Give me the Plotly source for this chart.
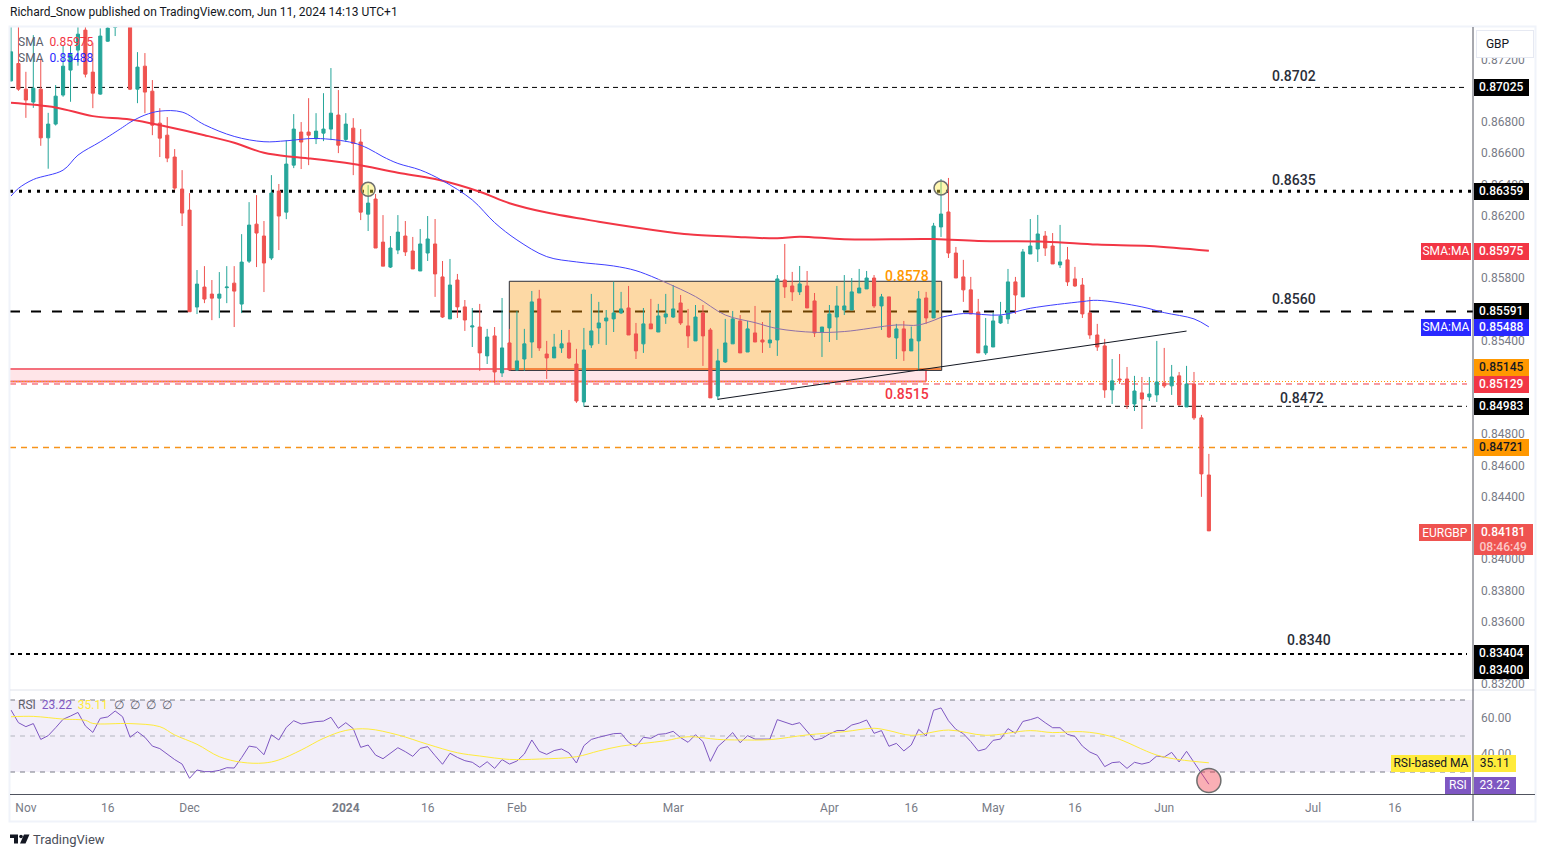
import plotly.graph_objects as go


opens = [0.87064, 0.87175, 0.87011, 0.86928, 0.87011, 0.86699, 0.86787, 0.86973, 0.87133, 0.87261,
         0.87389, 0.87120, 0.86979, 0.87318, 0.87406, 0.87470, 0.87500, 0.87011, 0.87158, 0.86998,
         0.86793, 0.86716, 0.86576, 0.86371, 0.86236, 0.85615, 0.85743, 0.85698, 0.85672, 0.85739,
         0.85768, 0.85634, 0.85909, 0.86146, 0.86070, 0.85929, 0.86358, 0.86223, 0.86524, 0.86736,
         0.86736, 0.86693, 0.86729, 0.86755, 0.86845, 0.86689, 0.86761, 0.86672, 0.86210, 0.86307,
         0.86031, 0.85871, 0.85980, 0.86070, 0.85974, 0.85846, 0.85961, 0.86019, 0.85808, 0.85539,
         0.85788, 0.85616, 0.85487, 0.85487, 0.85302, 0.85430, 0.85193, 0.85385, 0.85212, 0.85282,
         0.85391, 0.85667, 0.85314, 0.85289, 0.85353, 0.85385, 0.85250, 0.85007, 0.85372, 0.85481,
         0.85526, 0.85539, 0.85577, 0.85609, 0.85443, 0.85379, 0.85507, 0.85455, 0.85551, 0.85551,
         0.85641, 0.85494, 0.85398, 0.85577, 0.85468, 0.85045, 0.85263, 0.85379, 0.85526, 0.85327,
         0.85449, 0.85404, 0.85385, 0.85404, 0.85788, 0.85750, 0.85712, 0.85750, 0.85654, 0.85453,
         0.85481, 0.85551, 0.85596, 0.85596, 0.85705, 0.85731, 0.85801, 0.85622, 0.85680, 0.85417,
         0.85475, 0.85334, 0.85398, 0.85673, 0.85545, 0.86128, 0.86224, 0.85961, 0.85808, 0.85725,
         0.85583, 0.85321, 0.85359, 0.85513, 0.85539, 0.85776, 0.85680, 0.85955, 0.85987, 0.86070,
         0.86006, 0.85885, 0.85917, 0.85795, 0.85756, 0.85577, 0.85436, 0.85366, 0.85084, 0.85154,
         0.85154, 0.84994, 0.85065, 0.85039, 0.85052, 0.85129, 0.85110, 0.85174, 0.84975, 0.85122,
         0.84905, 0.84539]
highs = [0.87500, 0.87450, 0.87122, 0.87357, 0.87207, 0.86859, 0.87037, 0.87293, 0.87293, 0.87480,
         0.87500, 0.87308, 0.87400, 0.87520, 0.87560, 0.87600, 0.87560, 0.87248, 0.87242, 0.87069,
         0.86889, 0.86832, 0.86627, 0.86492, 0.86345, 0.85852, 0.85877, 0.85788, 0.85839, 0.85877,
         0.85877, 0.86082, 0.86287, 0.86332, 0.86166, 0.86460, 0.86403, 0.86684, 0.86851, 0.86800,
         0.86953, 0.86857, 0.86985, 0.87146, 0.87005, 0.86857, 0.86825, 0.86755, 0.86396, 0.86339,
         0.86204, 0.86070, 0.86204, 0.86166, 0.86064, 0.86115, 0.86198, 0.86179, 0.85910, 0.85923,
         0.85827, 0.85660, 0.85609, 0.85635, 0.85475, 0.85487, 0.85673, 0.85475, 0.85590, 0.85475,
         0.85718, 0.85725, 0.85398, 0.85443, 0.85468, 0.85468, 0.85347, 0.85481, 0.85699, 0.85648,
         0.85596, 0.85778, 0.85712, 0.85750, 0.85513, 0.85609, 0.85667, 0.85635, 0.85699, 0.85756,
         0.85692, 0.85603, 0.85628, 0.85628, 0.85481, 0.85347, 0.85539, 0.85590, 0.85564, 0.85526,
         0.85622, 0.85519, 0.85577, 0.85820, 0.86019, 0.85840, 0.85878, 0.85846, 0.85705, 0.85487,
         0.85628, 0.85750, 0.85820, 0.85801, 0.85859, 0.85846, 0.85820, 0.85699, 0.85680, 0.85507,
         0.85526, 0.85490, 0.85718, 0.85712, 0.86154, 0.86435, 0.86442, 0.86000, 0.85917, 0.85808,
         0.85667, 0.85545, 0.85577, 0.85648, 0.85859, 0.85808, 0.85987, 0.86179, 0.86205, 0.86102,
         0.86089, 0.86141, 0.86000, 0.85872, 0.85801, 0.85680, 0.85507, 0.85411, 0.85282, 0.85314,
         0.85231, 0.85174, 0.85167, 0.85167, 0.85398, 0.85353, 0.85244, 0.85199, 0.85238, 0.85199,
         0.84924, 0.84674]
lows = [0.87060, 0.87000, 0.86827, 0.86891, 0.86648, 0.86501, 0.86778, 0.86962, 0.86930, 0.87161,
        0.87086, 0.86889, 0.86975, 0.87314, 0.87351, 0.87430, 0.87005, 0.86921, 0.86857, 0.86716,
        0.86576, 0.86543, 0.86364, 0.86134, 0.85585, 0.85570, 0.85640, 0.85531, 0.85544, 0.85640,
        0.85487, 0.85576, 0.85897, 0.85871, 0.85711, 0.85916, 0.85980, 0.86178, 0.86505, 0.86499,
        0.86524, 0.86659, 0.86678, 0.86684, 0.86601, 0.86672, 0.86460, 0.86172, 0.86102, 0.85993,
        0.85877, 0.85865, 0.85954, 0.85942, 0.85859, 0.85846, 0.85910, 0.85680, 0.85545, 0.85539,
        0.85545, 0.85462, 0.85359, 0.85206, 0.85250, 0.85129, 0.85167, 0.85212, 0.85206, 0.85206,
        0.85289, 0.85334, 0.85154, 0.85289, 0.85321, 0.85282, 0.85001, 0.84977, 0.85353, 0.85379,
        0.85372, 0.85455, 0.85571, 0.85436, 0.85282, 0.85321, 0.85475, 0.85455, 0.85507, 0.85545,
        0.85500, 0.85353, 0.85398, 0.85238, 0.85033, 0.85020, 0.85257, 0.85379, 0.85321, 0.85327,
        0.85391, 0.85321, 0.85353, 0.85302, 0.85673, 0.85654, 0.85692, 0.85609, 0.85423, 0.85295,
        0.85391, 0.85404, 0.85564, 0.85596, 0.85705, 0.85731, 0.85609, 0.85468, 0.85417, 0.85282,
        0.85270, 0.85334, 0.85206, 0.85507, 0.85545, 0.86064, 0.85929, 0.85801, 0.85648, 0.85571,
        0.85321, 0.85308, 0.85359, 0.85507, 0.85507, 0.85571, 0.85680, 0.85955, 0.85904, 0.85942,
        0.85891, 0.85865, 0.85750, 0.85744, 0.85545, 0.85411, 0.85334, 0.85033, 0.84994, 0.85122,
        0.84962, 0.84949, 0.84834, 0.85013, 0.85007, 0.85097, 0.85052, 0.84981, 0.84975, 0.84892,
        0.84399, 0.84181]
closes = [0.87250, 0.87011, 0.86941, 0.87017, 0.86699, 0.86787, 0.86966, 0.87158, 0.87233, 0.87363,
          0.87107, 0.86985, 0.87351, 0.87402, 0.87442, 0.87550, 0.87011, 0.87152, 0.86992, 0.86780,
          0.86697, 0.86569, 0.86377, 0.86217, 0.85585, 0.85762, 0.85666, 0.85672, 0.85698, 0.85743,
          0.85717, 0.85903, 0.86140, 0.86089, 0.85897, 0.86345, 0.86198, 0.86531, 0.86755, 0.86672,
          0.86716, 0.86742, 0.86755, 0.86857, 0.86652, 0.86787, 0.86663, 0.86223, 0.86281, 0.85993,
          0.85877, 0.85993, 0.86095, 0.85968, 0.85859, 0.86019, 0.86051, 0.85827, 0.85551, 0.85756,
          0.85616, 0.85532, 0.85494, 0.85321, 0.85423, 0.85199, 0.85353, 0.85212, 0.85270, 0.85379,
          0.85648, 0.85353, 0.85289, 0.85359, 0.85379, 0.85289, 0.85013, 0.85340, 0.85462, 0.85513,
          0.85545, 0.85577, 0.85603, 0.85436, 0.85334, 0.85507, 0.85475, 0.85558, 0.85571, 0.85603,
          0.85513, 0.85430, 0.85551, 0.85430, 0.85033, 0.85270, 0.85385, 0.85539, 0.85321, 0.85475,
          0.85391, 0.85391, 0.85404, 0.85795, 0.85744, 0.85712, 0.85763, 0.85609, 0.85449, 0.85487,
          0.85571, 0.85622, 0.85622, 0.85712, 0.85737, 0.85801, 0.85622, 0.85680, 0.85423, 0.85475,
          0.85334, 0.85410, 0.85667, 0.85545, 0.86134, 0.86211, 0.85961, 0.85801, 0.85725, 0.85571,
          0.85321, 0.85366, 0.85526, 0.85558, 0.85776, 0.85692, 0.85968, 0.86006, 0.86083, 0.85993,
          0.85891, 0.85904, 0.85776, 0.85750, 0.85571, 0.85436, 0.85359, 0.85084, 0.85142, 0.85148,
          0.84988, 0.85077, 0.85026, 0.85058, 0.85135, 0.85110, 0.85167, 0.84988, 0.85122, 0.84905,
          0.84546, 0.84181]

sma200_bars = [0, 6, 11, 16, 21, 26, 30, 34, 38, 40, 46, 52, 57, 63, 67, 72, 79, 88, 91, 97,
               103, 106, 112, 124, 130, 139, 146, 153, 161]
sma200 = [0.86924, 0.86894, 0.86838, 0.86817, 0.86770, 0.86716, 0.86667, 0.86603, 0.86576, 0.86567,
          0.86531, 0.86475, 0.86435, 0.86354, 0.86280, 0.86220, 0.86162, 0.86098, 0.86081, 0.86066,
          0.86055, 0.86066, 0.86049, 0.86051, 0.86038, 0.86034, 0.86015, 0.86006, 0.85975]
sma50_bars = [0, 1, 3, 7, 9, 12, 15, 16, 18, 20, 23, 26, 30, 34, 37, 41, 46, 48, 50, 52,
              55, 58, 62, 65, 68, 72, 76, 81, 84, 87, 92, 96, 100, 103, 108, 112, 119, 122, 125,
              128, 133, 137, 144, 146, 152, 155, 159, 161]
sma50 = [0.86326, 0.86375, 0.86432, 0.86492, 0.86588, 0.86674, 0.86766, 0.86798, 0.86845, 0.86870,
         0.86864, 0.86783, 0.86708, 0.86674, 0.86680, 0.86695, 0.86667, 0.86631, 0.86578, 0.86535,
         0.86493, 0.86425, 0.86301, 0.86156, 0.86045, 0.85938, 0.85904, 0.85878, 0.85848, 0.85793,
         0.85682, 0.85564, 0.85515, 0.85477, 0.85453, 0.85458, 0.85500, 0.85500, 0.85549,
         0.85573, 0.85564, 0.85607, 0.85650, 0.85658, 0.85616, 0.85579, 0.85539, 0.85488]

rsi = [64.4, 57.4, 55.2, 56.9, 48.1, 50.2, 54.6, 59.3, 61.1, 63.1, 55.6, 52.0, 59.8, 60.6, 63.9, 60.7,
       49.3, 52.4, 49.3, 44.4, 43.0, 39.8, 36.9, 34.4, 26.5, 31.1, 30.2, 30.2, 30.9, 32.4, 32.2, 38.0,
       44.4, 43.7, 39.6, 50.7, 47.8, 54.8, 58.5, 56.7, 57.4, 58.0, 58.3, 60.4, 54.3, 57.4, 54.1, 43.7,
       45.0, 39.4, 37.4, 40.4, 43.5, 41.3, 38.7, 43.1, 44.1, 39.1, 34.3, 40.4, 38.1, 36.3, 35.4, 32.6,
       35.7, 32.0, 36.9, 34.4, 36.1, 40.0, 47.8, 41.5, 39.8, 41.9, 42.8, 40.6, 35.0, 44.6, 48.1, 49.3,
       50.2, 51.3, 51.5, 46.5, 44.1, 49.3, 48.7, 50.9, 51.3, 52.6, 49.1, 46.5, 50.7, 46.9, 35.9, 44.1,
       47.8, 51.9, 46.3, 50.2, 48.3, 48.3, 48.3, 59.1, 57.6, 56.3, 57.4, 52.4, 47.8, 48.7, 51.1, 53.0,
       53.1, 56.1, 57.2, 58.9, 51.5, 53.0, 44.3, 45.9, 41.7, 45.0, 53.7, 50.0, 64.3, 65.6, 58.5, 53.7,
       51.3, 46.9, 41.7, 42.8, 47.6, 48.3, 54.1, 51.5, 58.1, 59.1, 60.4, 57.4, 54.6, 54.6, 50.9, 49.8,
       44.4, 41.1, 39.3, 33.0, 35.2, 35.6, 32.0, 35.4, 34.4, 35.4, 38.9, 38.3, 40.9, 35.6, 41.5, 35.4,
       29.3, 23.22]
rsi_ma_bars = [0, 3, 7, 10, 11, 16, 20, 22, 25, 28, 31, 34, 36, 39, 42, 45, 48, 52, 56, 60, 63, 67, 71,
               76, 79, 82, 85, 88, 91, 95, 98, 102, 107, 112, 116, 118, 121, 126, 131, 137, 140, 144,
               148, 154, 157, 161]
rsi_ma = [60.7, 60.9, 59.4, 58.7, 57.0, 56.9, 55.2, 50.6, 45.4, 38.5, 35.4, 35.0, 36.7, 42.2, 48.7, 53.1,
          53.9, 50.6, 45.4, 40.7, 38.9, 37.0, 37.2, 38.5, 41.7, 44.4, 45.9, 47.4, 49.6, 48.1, 47.8, 48.0,
          50.6, 52.4, 54.3, 53.0, 50.4, 53.3, 50.4, 53.0, 51.9, 52.4, 49.6, 39.4, 36.9, 35.11]

tick_bars = [2, 13, 24, 45, 56, 68, 89, 110, 121, 132, 143, 155, 175, 186]
tick_labels = ['Nov', '16', 'Dec', '<b>2024</b>', '16', 'Feb', 'Mar', 'Apr', '16', 'May', '16', 'Jun', 'Jul', '16']
price_ticks = [0.872, 0.868, 0.866, 0.864, 0.862, 0.858, 0.854, 0.848, 0.846, 0.844, 0.840, 0.838, 0.836, 0.832]

W = 1546
H = 857
TEXT = '#131722'
GREY = '#787b86'
bars = list(range(len(opens)))

fig = go.Figure()

fig.add_trace(go.Candlestick(
    x=bars, open=opens, high=highs, low=lows, close=closes,
    increasing=dict(line=dict(color='#26a69a', width=1), fillcolor='#26a69a'),
    decreasing=dict(line=dict(color='#ef5350', width=1), fillcolor='#ef5350'),
    showlegend=False
))
fig.add_trace(go.Scatter(x=sma200_bars, y=sma200, mode='lines', showlegend=False,
                         line=dict(color='#f23645', width=2, shape='spline')))
# the orange box sits over the blue line, so that part is tinted
fig.add_trace(go.Scatter(x=sma50_bars[:30], y=sma50[:30], mode='lines', showlegend=False,
                         line=dict(color='#3f3fff', width=1, shape='spline')))
fig.add_trace(go.Scatter(x=sma50_bars[29:39], y=sma50[29:39], mode='lines', showlegend=False,
                         line=dict(color='#8f70a8', width=1, shape='spline')))
fig.add_trace(go.Scatter(x=sma50_bars[38:], y=sma50[38:], mode='lines', showlegend=False,
                         line=dict(color='#3f3fff', width=1, shape='spline')))
fig.add_trace(go.Scatter(x=bars, y=rsi, mode='lines', xaxis='x2', yaxis='y2', showlegend=False,
                         line=dict(color='#7e57c2', width=1)))
fig.add_trace(go.Scatter(x=rsi_ma_bars, y=rsi_ma, mode='lines', xaxis='x2', yaxis='y2', showlegend=False,
                         line=dict(color='#ffeb3b', width=1, shape='spline')))

fig.update_layout(
    width=W, height=H,
    margin=dict(l=0, r=0, t=0, b=0),
    paper_bgcolor='white', plot_bgcolor='white',
    boxgap=0.4,
    font=dict(family='Roboto', size=12, color=GREY),
    xaxis=dict(domain=[10 / W, 1473 / W], range=[-0.134, 196.5], rangeslider_visible=False, automargin=False,
               showgrid=False, zeroline=False, showticklabels=False, ticks=''),
    yaxis=dict(domain=[1 - 689 / H, 1 - 27 / H], range=[0.83168, 0.87409], side='right', anchor='x', automargin=False,
               showgrid=False, zeroline=False, tickvals=price_ticks, tickformat='.5f',
               ticks='', ticklabelstandoff=7),
    xaxis2=dict(domain=[10 / W, 1473 / W], range=[-0.134, 196.5], anchor='y2', automargin=False,
                showgrid=False, zeroline=False, tickvals=tick_bars, ticktext=tick_labels, ticks='',
                ticklabelstandoff=5),
    yaxis2=dict(domain=[1 - 794 / H, 1 - 690 / H], range=[17.78, 75.56], side='right', anchor='x2', automargin=False,
                showgrid=False, zeroline=False, tickvals=[60, 40], tickformat='.2f',
                ticks='', ticklabelstandoff=7),
)

# level lines
fig.add_shape(type='line', xref='paper', yref='y', x0=10 / W, x1=1467 / W, y0=0.87022, y1=0.87022, layer='below',
              line=dict(color='#000000', width=1, dash='5px,4px'))
fig.add_shape(type='line', xref='paper', yref='y', x0=10 / W, x1=1473 / W, y0=0.86356, y1=0.86356, layer='below',
              line=dict(color='#000000', width=3, dash='3px,6px'))
fig.add_shape(type='line', xref='paper', yref='y', x0=10 / W, x1=509 / W, y0=0.85586, y1=0.85586, layer='below',
              line=dict(color='#000000', width=2, dash='10px,11px'))
fig.add_shape(type='line', xref='paper', yref='y', x0=942 / W, x1=1473 / W, y0=0.85586, y1=0.85586, layer='below',
              line=dict(color='#000000', width=2, dash='10px,11px'))
fig.add_shape(type='line', xref='paper', yref='y', x0=10 / W, x1=1467 / W, y0=0.85122, y1=0.85122, layer='below',
              line=dict(color='#f23645', width=1, dash='6px,5px'))
fig.add_shape(type='line', xref='paper', yref='y', x0=584 / W, x1=1467 / W, y0=0.84979, y1=0.84979, layer='below',
              line=dict(color='#000000', width=1, dash='5px,4px'))
fig.add_shape(type='line', xref='paper', yref='y', x0=10 / W, x1=1467 / W, y0=0.84715, y1=0.84715, layer='below',
              line=dict(color='#f7931a', width=1.3, dash='6px,5px'))
fig.add_shape(type='line', xref='paper', yref='y', x0=10 / W, x1=1467 / W, y0=0.83392, y1=0.83392, layer='below',
              line=dict(color='#000000', width=2, dash='4px,4px'))

# pink zone
fig.add_shape(type='rect', xref='paper', yref='y', x0=10 / W, x1=926 / W, y0=0.85138, y1=0.85218, layer='below',
              fillcolor='#ffe5e8', line=dict(width=0))
fig.add_shape(type='line', xref='paper', yref='y', x0=10 / W, x1=509 / W, y0=0.85218, y1=0.85218, layer='below',
              line=dict(color='#f4707c', width=2))
fig.add_shape(type='line', xref='paper', yref='y', x0=10 / W, x1=926 / W, y0=0.85138, y1=0.85138, layer='below',
              line=dict(color='#f4707c', width=2))
fig.add_shape(type='line', xref='paper', yref='y', x0=926 / W, x1=926 / W, y0=0.85138, y1=0.85218, layer='below',
              line=dict(color='#f4707c', width=2))
fig.add_shape(type='line', xref='paper', yref='y', x0=10 / W, x1=1467 / W, y0=0.85138, y1=0.85138, layer='below',
              line=dict(color='#ff9800', width=1, dash='1px,2px'))

# orange box
fig.add_shape(type='rect', xref='paper', yref='y', x0=509.3 / W, x1=941.7 / W, y0=0.85209, y1=0.85780, layer='below',
              fillcolor='#fdd9a5', line=dict(color='#2a2e39', width=1))
fig.add_shape(type='line', xref='paper', yref='y', x0=509 / W, x1=942 / W, y0=0.85586, y1=0.85586, layer='below',
              line=dict(color='#6b4000', width=2, dash='10px,11px'))
fig.add_shape(type='line', xref='paper', yref='y', x0=510 / W, x1=941 / W, y0=0.85218, y1=0.85218, layer='below',
              line=dict(color='#f5853f', width=2))

# trend line and circles
fig.add_shape(type='line', x0=95, x1=158, y0=0.85024, y1=0.85461, line=dict(color='#131722', width=1))
fig.add_shape(type='circle', xsizemode='pixel', ysizemode='pixel', xanchor=48, yanchor=0.86369,
              x0=-7, x1=7, y0=-7, y1=7, fillcolor='rgba(255,235,59,0.4)', line=dict(color='#6f6f6f', width=1.5))
fig.add_shape(type='circle', xsizemode='pixel', ysizemode='pixel', xanchor=125, yanchor=0.86377,
              x0=-7, x1=7, y0=-7, y1=7, fillcolor='rgba(255,235,59,0.4)', line=dict(color='#6f6f6f', width=1.5))

# RSI pane
fig.add_shape(type='rect', xref='paper', yref='y2', x0=10 / W, x1=1473 / W, y0=30, y1=70, layer='below',
              fillcolor='rgba(126,87,194,0.1)', line=dict(width=0))
fig.add_shape(type='line', xref='paper', yref='y2', x0=10 / W, x1=1467 / W, y0=70, y1=70, layer='below',
              line=dict(color=GREY, width=1, dash='5px,5px'))
fig.add_shape(type='line', xref='paper', yref='y2', x0=10 / W, x1=1467 / W, y0=50, y1=50, layer='below',
              line=dict(color='#b2b5be', width=1, dash='5px,5px'))
fig.add_shape(type='line', xref='paper', yref='y2', x0=10 / W, x1=1467 / W, y0=30, y1=30, layer='below',
              line=dict(color=GREY, width=1, dash='5px,5px'))
fig.add_shape(type='circle', xref='x2', yref='y2', xsizemode='pixel', ysizemode='pixel', xanchor=161, yanchor=25.3,
              x0=-12, x1=12, y0=-12, y1=12, fillcolor='rgba(242,54,69,0.4)', line=dict(color='#6f6f6f', width=1.5))

# frame
fig.add_shape(type='rect', xref='paper', yref='paper', x0=9.5 / W, x1=1535.5 / W, y0=1 - 821.5 / H, y1=1 - 26.5 / H,
              line=dict(color='#f0f3fa', width=2))
fig.add_shape(type='line', xref='paper', yref='paper', x0=10 / W, x1=1535 / W, y0=1 - 690 / H, y1=1 - 690 / H,
              line=dict(color='#e0e3eb', width=1))
fig.add_shape(type='line', xref='paper', yref='paper', x0=10 / W, x1=1535 / W, y0=1 - 794.5 / H, y1=1 - 794.5 / H,
              line=dict(color='#50535e', width=1))
fig.add_shape(type='line', xref='paper', yref='paper', x0=1473 / W, x1=1473 / W, y0=1 - 821 / H, y1=1 - 27 / H,
              line=dict(color='#50535e', width=1))

# logo
fig.add_shape(type='path', xref='paper', yref='paper', xsizemode='pixel', ysizemode='pixel',
              xanchor=10 / W, yanchor=1 - 843.5 / H, path='M0 9 H8 V0 H4 V5.5 H0 Z', fillcolor=TEXT, line=dict(width=0))
fig.add_shape(type='circle', xref='paper', yref='paper', xsizemode='pixel', ysizemode='pixel',
              xanchor=10 / W, yanchor=1 - 843.5 / H, x0=9.2, x1=12.8, y0=5.2, y1=8.8, fillcolor=TEXT, line=dict(width=0))
fig.add_shape(type='path', xref='paper', yref='paper', xsizemode='pixel', ysizemode='pixel',
              xanchor=10 / W, yanchor=1 - 843.5 / H, path='M14 9 H19.5 L15.5 0 H10 Z', fillcolor=TEXT, line=dict(width=0))

# texts on the chart
fig.add_annotation(xref='paper', yref='paper', x=8 / W, y=1 - 12 / H, showarrow=False, xanchor='left', yanchor='middle',
                   text='Richard_Snow published on TradingView.com, Jun 11, 2024 14:13 UTC+1', font=dict(color=TEXT, size=12))
fig.add_annotation(xref='paper', yref='paper', x=31 / W, y=1 - 839 / H, showarrow=False, xanchor='left', yanchor='middle',
                   text='TradingView', font=dict(color='#4a4e59', size=13))
fig.add_annotation(xref='paper', yref='paper', x=16 / W, y=1 - 42 / H, showarrow=False, xanchor='left', yanchor='middle',
                   text='SMA  <span style="color:#f23645">0.85975</span>', font=dict(color='#5d606b', size=12))
fig.add_annotation(xref='paper', yref='paper', x=16 / W, y=1 - 58 / H, showarrow=False, xanchor='left', yanchor='middle',
                   text='SMA  <span style="color:#2929ff">0.85488</span>', font=dict(color='#5d606b', size=12))
fig.add_annotation(xref='paper', yref='paper', x=16 / W, y=1 - 705 / H, showarrow=False, xanchor='left', yanchor='middle',
                   text='RSI  <span style="color:#7e57c2">23.22</span>  <span style="color:#ffeb3b">35.11</span>  ∅  ∅  ∅  ∅',
                   font=dict(color='#5d606b', size=12))
fig.add_annotation(xref='paper', yref='paper', x=1294 / W, y=1 - 76 / H, showarrow=False, text='0.8702', xanchor='center', yanchor='middle',
                   font=dict(color='#2a2e39', size=14, weight=500))
fig.add_annotation(xref='paper', yref='paper', x=1294 / W, y=1 - 180 / H, showarrow=False, text='0.8635', xanchor='center', yanchor='middle',
                   font=dict(color='#2a2e39', size=14, weight=500))
fig.add_annotation(xref='paper', yref='paper', x=1294 / W, y=1 - 299 / H, showarrow=False, text='0.8560', xanchor='center', yanchor='middle',
                   font=dict(color='#2a2e39', size=14, weight=500))
fig.add_annotation(xref='paper', yref='paper', x=1302 / W, y=1 - 398 / H, showarrow=False, text='0.8472', xanchor='center', yanchor='middle',
                   font=dict(color='#2a2e39', size=14, weight=500))
fig.add_annotation(xref='paper', yref='paper', x=1309 / W, y=1 - 640 / H, showarrow=False, text='0.8340', xanchor='center', yanchor='middle',
                   font=dict(color='#2a2e39', size=14, weight=500))
fig.add_annotation(xref='paper', yref='paper', x=907 / W, y=1 - 276 / H, showarrow=False, text='0.8578', xanchor='center', yanchor='middle',
                   font=dict(color='#ff9800', size=14, weight=500))
fig.add_annotation(xref='paper', yref='paper', x=907 / W, y=1 - 394 / H, showarrow=False, text='0.8515', xanchor='center', yanchor='middle',
                   font=dict(color='#f23645', size=14, weight=500))

# price axis tags
fig.add_annotation(xref='paper', yref='paper', x=1476 / W, y=1 - 44 / H, showarrow=False, xanchor='left', yanchor='middle',
                   width=56, height=26, bgcolor='white', bordercolor='#e6e9f2', borderwidth=1, borderpad=0, align='left',
                   text='   GBP', font=dict(color=TEXT, size=12))
tag_labels = ['0.87025', '0.86359', '0.85975', '0.85591', '0.85488', '0.85145', '0.85129', '0.84983',
              '0.84721', '0.83404', '0.83400']
tag_rows = [87.5, 191, 251, 311, 328, 367.5, 384.5, 406.5, 447.5, 653.5, 670.5]
tag_fills = ['#000000', '#000000', '#f23645', '#000000', '#2929ff', '#ff9800', '#f23645', '#000000',
             '#ff9800', '#000000', '#000000']
tag_inks = ['white', 'white', 'white', 'white', 'white', '#131722', 'white', 'white', '#131722', 'white', 'white']
for label, row, fill, ink in zip(tag_labels, tag_rows, tag_fills, tag_inks):
    fig.add_annotation(xref='paper', yref='paper', x=1473.5 / W, y=1 - row / H, showarrow=False,
                       xanchor='left', yanchor='middle', width=54.5, height=16.5, borderpad=0, borderwidth=0,
                       bgcolor=fill, text=label, font=dict(color=ink, size=12, weight=500))
fig.add_annotation(xref='paper', yref='paper', x=1421 / W, y=1 - 251 / H, showarrow=False, xanchor='left', yanchor='middle',
                   width=50, height=16.5, borderpad=0, borderwidth=0, bgcolor='#f23645', text='SMA:MA', font=dict(color='white', size=12))
fig.add_annotation(xref='paper', yref='paper', x=1421 / W, y=1 - 328 / H, showarrow=False, xanchor='left', yanchor='middle',
                   width=50, height=16.5, borderpad=0, borderwidth=0, bgcolor='#2929ff', text='SMA:MA', font=dict(color='white', size=12))
fig.add_annotation(xref='paper', yref='paper', x=1419 / W, y=1 - 532.5 / H, showarrow=False, xanchor='left', yanchor='middle',
                   width=52, height=17, borderpad=0, borderwidth=0, bgcolor='#ef5350', text='EURGBP', font=dict(color='white', size=12))
fig.add_annotation(xref='paper', yref='paper', x=1473.5 / W, y=1 - 539.5 / H, showarrow=False, xanchor='left', yanchor='middle',
                   width=58.5, height=31, borderpad=0, borderwidth=0, bgcolor='#ef5350',
                   text='0.84181<br><span style="color:#fbc9c8">08:46:49</span>',
                   font=dict(color='white', size=12, weight=500))
fig.add_annotation(xref='paper', yref='paper', x=1391 / W, y=1 - 763.5 / H, showarrow=False, xanchor='left', yanchor='middle',
                   width=80, height=16.5, borderpad=0, borderwidth=0, bgcolor='#ffeb3b', text='RSI-based MA', font=dict(color=TEXT, size=12))
fig.add_annotation(xref='paper', yref='paper', x=1473.5 / W, y=1 - 763.5 / H, showarrow=False, xanchor='left', yanchor='middle',
                   width=41.5, height=16.5, borderpad=0, borderwidth=0, bgcolor='#ffeb3b', text='35.11', font=dict(color=TEXT, size=12))
fig.add_annotation(xref='paper', yref='paper', x=1445 / W, y=1 - 785.5 / H, showarrow=False, xanchor='left', yanchor='middle',
                   width=26, height=16.5, borderpad=0, borderwidth=0, bgcolor='#7e57c2', text='RSI', font=dict(color='white', size=12))
fig.add_annotation(xref='paper', yref='paper', x=1473.5 / W, y=1 - 785.5 / H, showarrow=False, xanchor='left', yanchor='middle',
                   width=41.5, height=16.5, borderpad=0, borderwidth=0, bgcolor='#7e57c2', text='23.22', font=dict(color='white', size=12))

fig.write_html("out.html", config=dict(displayModeBar=False),
               post_script="document.body.style.margin='0';document.documentElement.style.overflow='hidden';")
